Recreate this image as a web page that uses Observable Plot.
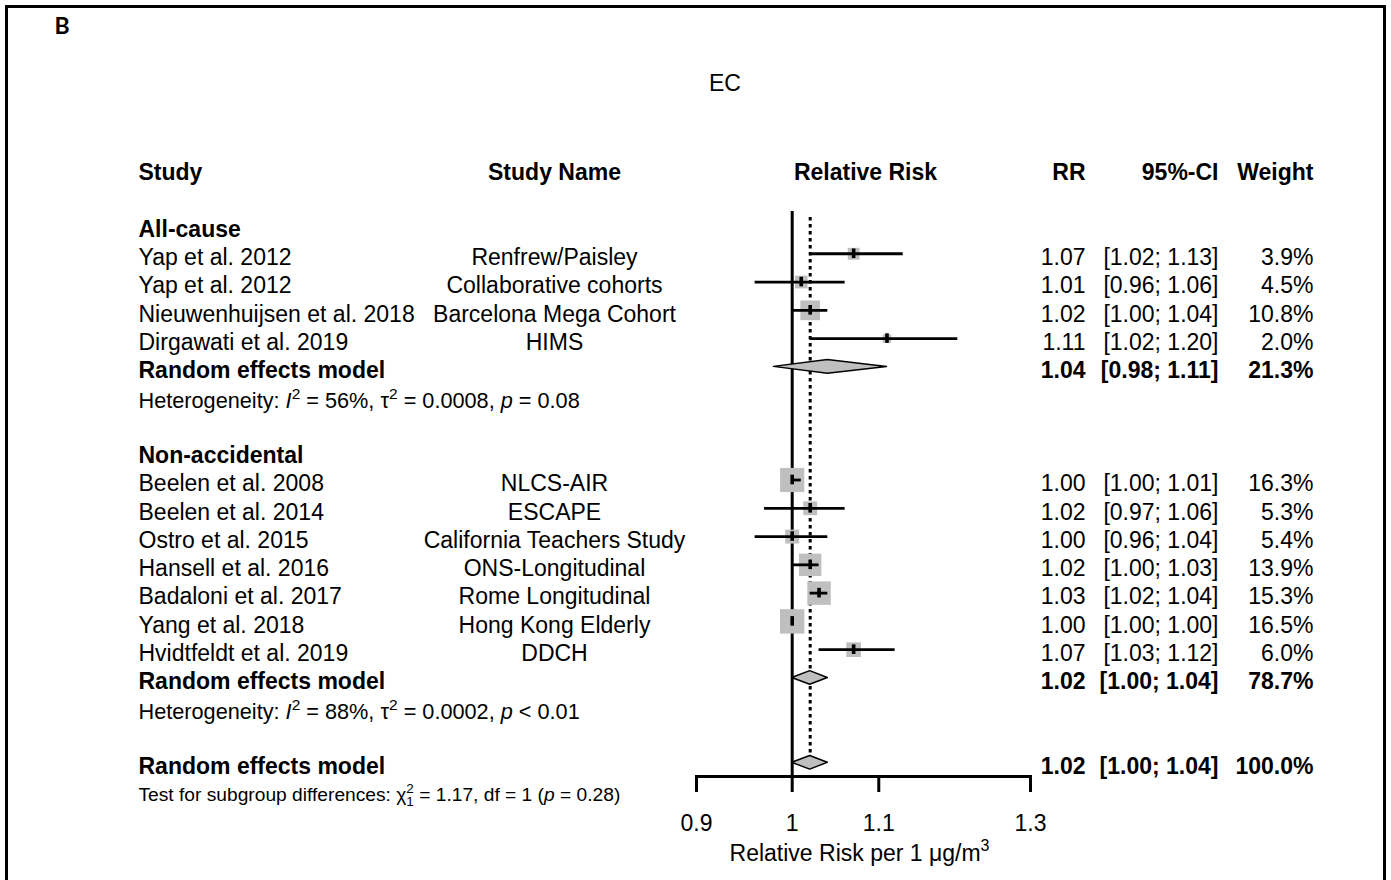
<!DOCTYPE html>
<html>
<head>
<meta charset="utf-8">
<script src="https://cdn.jsdelivr.net/npm/d3@7"></script>
<script src="https://cdn.jsdelivr.net/npm/@observablehq/plot@0.6"></script>
<style>
  body { margin: 0; background: #fff; }
  #chart { position: relative; width: 1391px; height: 880px; overflow: hidden; }
</style>
</head>
<body>
<div id="chart"></div>
<script>
// Elemental carbon (EC) and mortality: random-effects meta-analysis by outcome group

const panelLetter = "B";
const chartTitle = "EC";
const groups = ["All-cause", "Non-accidental"];

const allCauseStudies = ["Yap et al. 2012", "Yap et al. 2012", "Nieuwenhuijsen et al. 2018", "Dirgawati et al. 2019"];
const allCauseNames = ["Renfrew/Paisley", "Collaborative cohorts", "Barcelona Mega Cohort", "HIMS"];
const allCauseRR = [1.07, 1.01, 1.02, 1.11];
const allCauseLower = [1.02, 0.96, 1.00, 1.02];
const allCauseUpper = [1.13, 1.06, 1.04, 1.20];
const allCauseWeight = [3.9, 4.5, 10.8, 2.0];

const nonAccStudies = ["Beelen et al. 2008", "Beelen et al. 2014", "Ostro et al. 2015", "Hansell et al. 2016",
  "Badaloni et al. 2017", "Yang et al. 2018", "Hvidtfeldt et al. 2019"];
const nonAccNames = ["NLCS-AIR", "ESCAPE", "California Teachers Study", "ONS-Longitudinal",
  "Rome Longitudinal", "Hong Kong Elderly", "DDCH"];
const nonAccRR = [1.00, 1.02, 1.00, 1.02, 1.03, 1.00, 1.07];
const nonAccLower = [1.00, 0.97, 0.96, 1.00, 1.02, 1.00, 1.03];
const nonAccUpper = [1.01, 1.06, 1.04, 1.03, 1.04, 1.00, 1.12];
const nonAccWeight = [16.3, 5.3, 5.4, 13.9, 15.3, 16.5, 6.0];

// pooled estimates: all-cause, non-accidental, overall
const pooledLabel = "Random effects model";
const pooledRR = [1.04, 1.02, 1.02];
const pooledLower = [0.98, 1.00, 1.00];
const pooledUpper = [1.11, 1.04, 1.04];
const pooledWeight = [21.3, 78.7, 100.0];

const hetI2 = ["56%", "88%"];
const hetTau2 = ["0.0008", "0.0002"];
const hetP = ["= 0.08", "< 0.01"];
const subgroupChi2 = "1.17";
const subgroupDf = "1";
const subgroupP = "0.28";

const headers = ["Study", "Study Name", "Relative Risk", "RR", "95%-CI", "Weight"];
const xTicks = [0.9, 1, 1.1, 1.3];
const xLabel = "Relative Risk per 1 \u03bcg/m";

// ---- assemble the row layout ----
const groupData = [
  {studies: allCauseStudies, names: allCauseNames, rr: allCauseRR, lo: allCauseLower, hi: allCauseUpper, w: allCauseWeight},
  {studies: nonAccStudies, names: nonAccNames, rr: nonAccRR, lo: nonAccLower, hi: nonAccUpper, w: nonAccWeight}
];
const studyRows = [], pooledRows = [], groupRows = [], hetRows = [];
let k = 1;
groupData.forEach((g, gi) => {
  groupRows.push({k, text: groups[gi]}); k++;
  g.studies.forEach((s, i) => {
    studyRows.push({k, study: s, name: g.names[i], rr: g.rr[i], lo: g.lo[i], hi: g.hi[i], w: g.w[i]});
    k++;
  });
  pooledRows.push({k, rr: pooledRR[gi], lo: pooledLower[gi], hi: pooledUpper[gi], w: pooledWeight[gi]}); k++;
  hetRows.push({k, text: `Heterogeneity: I2 = ${hetI2[gi]}, \u03c42 = ${hetTau2[gi]}, p ${hetP[gi]}`}); k += 2;
});
pooledRows.push({k, rr: pooledRR[2], lo: pooledLower[2], hi: pooledUpper[2], w: pooledWeight[2]}); k++;
const testRows = [{k, text: `Test for subgroup differences: \u03c721 = ${subgroupChi2}, df = ${subgroupDf} (p = ${subgroupP})`}];
const lastRow = k;

const fmt2 = v => v.toFixed(2);
const ciText = d => `[${fmt2(d.lo)}; ${fmt2(d.hi)}]`;
const wText = d => `${d.w.toFixed(1)}%`;

// diamonds for pooled estimates, drawn as closed areas
const dh = 0.24;
const diamonds = pooledRows.flatMap((p, i) => [
  {id: i, y: p.k - dh, x1: p.rr, x2: p.rr},
  {id: i, y: p.k, x1: p.lo, x2: p.hi},
  {id: i, y: p.k + dh, x1: p.rr, x2: p.rr}
]);

// column anchors (pixels relative to the forest panel edges)
const W = 1391, H = 880;
const panelL = 696, panelR = 1030;
const rowTop = 196.7, rowStep = 28.28;
const colStudy = 138 - panelL;
const colName = 554 - (panelL + panelR) / 2;
const colRel = 865 - (panelL + panelR) / 2;
const colRR = 1085 - panelR;
const colCI = 1218 - panelR;
const colW = 1313 - panelR;
const textDy = 4;
const grey = "#bfbfbf";

const headerRows = headers.map(h => ({k: -1, text: h}));

const plot = Plot.plot({
  width: W,
  height: H,
  marginLeft: panelL,
  marginRight: W - panelR,
  marginTop: 211,
  marginBottom: 104,
  style: {fontFamily: "'Liberation Sans', Arial, sans-serif", fontSize: "23px", background: "#fff", color: "#000"},
  x: {type: "log", domain: [0.9, 1.3]},
  y: {domain: [0, lastRow], range: [rowTop, rowTop + rowStep * lastRow], axis: null},
  r: {type: "sqrt", domain: [0, 16.5], range: [0, 13.75]},
  marks: [
    // line of no effect and overall estimate
    Plot.ruleX([1], {stroke: "#000", strokeWidth: 3}),
    Plot.ruleX([pooledRR[2]], {y1: 0.72, y2: lastRow - 1, stroke: "#000", strokeWidth: 3, strokeDasharray: "3.5,3.5"}),
    // study weights
    Plot.dot(studyRows, {x: "rr", y: "k", r: "w", symbol: "square", fill: grey, stroke: "none"}),
    // confidence intervals and point estimates
    Plot.ruleY(studyRows, {y: "k", x1: "lo", x2: "hi", stroke: "#000", strokeWidth: 2.8}),
    Plot.ruleX(studyRows, {x: "rr", y1: d => d.k - 0.17, y2: d => d.k + 0.17, stroke: "#000", strokeWidth: 3.6}),
    Plot.areaX(diamonds, {y: "y", x1: "x1", x2: "x2", z: "id", fill: grey, stroke: "#000", strokeWidth: 1.5, curve: "linear"}),

    // x axis
    Plot.frame({anchor: "bottom", stroke: "#000", strokeWidth: 3}),
    Plot.axisX({ticks: xTicks, tickSize: 16, tickPadding: 22, strokeWidth: 3, fontSize: 23, tickFormat: d => String(d), label: null}),
    Plot.text([xLabel], {frameAnchor: "bottom", dx: -4, dy: 77, lineAnchor: "middle", fontSize: 23, ariaDescription: "x-label"}),

    // panel letter and title
    Plot.text([panelLetter], {frameAnchor: "top-left", dx: 54 - panelL, dy: -185, textAnchor: "start", lineAnchor: "middle",
      fontSize: 23, fontWeight: "bold", fontFamily: "Lato, 'Open Sans', sans-serif"}),
    Plot.text([chartTitle], {frameAnchor: "top", dx: -138.5, dy: -127.6, lineAnchor: "middle", fontSize: 23}),

    // column headers
    Plot.text(headerRows.slice(0, 1), {y: "k", text: "text", frameAnchor: "left", dx: colStudy, dy: textDy, textAnchor: "start", fontWeight: "bold"}),
    Plot.text(headerRows.slice(1, 2), {y: "k", text: "text", dx: colName, dy: textDy, fontWeight: "bold"}),
    Plot.text(headerRows.slice(2, 3), {y: "k", text: "text", dx: colRel, dy: textDy, fontWeight: "bold"}),
    Plot.text(headerRows.slice(3, 4), {y: "k", text: "text", frameAnchor: "right", dx: colRR, dy: textDy, textAnchor: "end", fontWeight: "bold"}),
    Plot.text(headerRows.slice(4, 5), {y: "k", text: "text", frameAnchor: "right", dx: colCI, dy: textDy, textAnchor: "end", fontWeight: "bold"}),
    Plot.text(headerRows.slice(5, 6), {y: "k", text: "text", frameAnchor: "right", dx: colW, dy: textDy, textAnchor: "end", fontWeight: "bold"}),

    // group labels
    Plot.text(groupRows, {y: "k", text: "text", frameAnchor: "left", dx: colStudy, dy: textDy, textAnchor: "start", fontWeight: "bold"}),

    // study rows
    Plot.text(studyRows, {y: "k", text: "study", frameAnchor: "left", dx: colStudy, dy: textDy, textAnchor: "start"}),
    Plot.text(studyRows, {y: "k", text: "name", dx: colName, dy: textDy}),
    Plot.text(studyRows, {y: "k", text: d => fmt2(d.rr), frameAnchor: "right", dx: colRR, dy: textDy, textAnchor: "end"}),
    Plot.text(studyRows, {y: "k", text: ciText, frameAnchor: "right", dx: colCI, dy: textDy, textAnchor: "end"}),
    Plot.text(studyRows, {y: "k", text: wText, frameAnchor: "right", dx: colW, dy: textDy, textAnchor: "end"}),

    // pooled rows
    Plot.text(pooledRows, {y: "k", text: () => pooledLabel, frameAnchor: "left", dx: colStudy, dy: textDy, textAnchor: "start", fontWeight: "bold"}),
    Plot.text(pooledRows, {y: "k", text: d => fmt2(d.rr), frameAnchor: "right", dx: colRR, dy: textDy, textAnchor: "end", fontWeight: "bold"}),
    Plot.text(pooledRows, {y: "k", text: ciText, frameAnchor: "right", dx: colCI, dy: textDy, textAnchor: "end", fontWeight: "bold"}),
    Plot.text(pooledRows, {y: "k", text: wText, frameAnchor: "right", dx: colW, dy: textDy, textAnchor: "end", fontWeight: "bold"}),

    // heterogeneity and subgroup test
    Plot.text(hetRows, {y: "k", text: "text", frameAnchor: "left", dx: colStudy, dy: textDy + 2, textAnchor: "start", fontSize: 21.7, ariaDescription: "heterogeneity"}),
    Plot.text(testRows, {y: "k", text: "text", frameAnchor: "left", dx: colStudy, dy: textDy, textAnchor: "start", fontSize: 19.2, ariaDescription: "subgroup-test"})
  ]
});

const svg = d3.select(plot);

// rich text: italic symbols, superscripts and subscripts
function seg(t, txt, opts = {}) {
  const s = t.append("tspan").text(txt);
  if (opts.italic) s.attr("font-style", "italic");
  if (opts.size) s.attr("font-size", opts.size);
  if (opts.dy) s.attr("dy", opts.dy);
  if (opts.dx) s.attr("dx", opts.dx);
  return s;
}
svg.selectAll('g[aria-description="heterogeneity"] text').each(function (_, i) {
  const t = d3.select(this).text(null);
  seg(t, "Heterogeneity: ");
  seg(t, "I", {italic: true});
  seg(t, "2", {size: 15.5, dy: -9});
  seg(t, ` = ${hetI2[i]}, \u03c4`, {dy: 9});
  seg(t, "2", {size: 15.5, dy: -9});
  seg(t, ` = ${hetTau2[i]}, `, {dy: 9});
  seg(t, "p", {italic: true});
  seg(t, ` ${hetP[i]}`);
});
svg.selectAll('g[aria-description="subgroup-test"] text').each(function () {
  const t = d3.select(this).text(null);
  seg(t, "Test for subgroup differences: \u03c7");
  seg(t, "2", {size: 13.5, dy: -8});
  seg(t, "1", {size: 13.5, dy: 13, dx: -7.5});
  seg(t, ` = ${subgroupChi2}, df = ${subgroupDf} (`, {dy: -5});
  seg(t, "p", {italic: true});
  seg(t, ` = ${subgroupP})`);
});
svg.selectAll('g[aria-description="x-label"] text').each(function () {
  const t = d3.select(this);
  seg(t, "3", {size: 16, dy: -10});
});

// figure border
svg.insert("rect", ":first-child")
  .attr("x", 6.5).attr("y", 6.5).attr("width", 1378).attr("height", 900)
  .attr("fill", "none").attr("stroke", "#000").attr("stroke-width", 3);

document.getElementById("chart").appendChild(plot);
</script>
</body>
</html>
